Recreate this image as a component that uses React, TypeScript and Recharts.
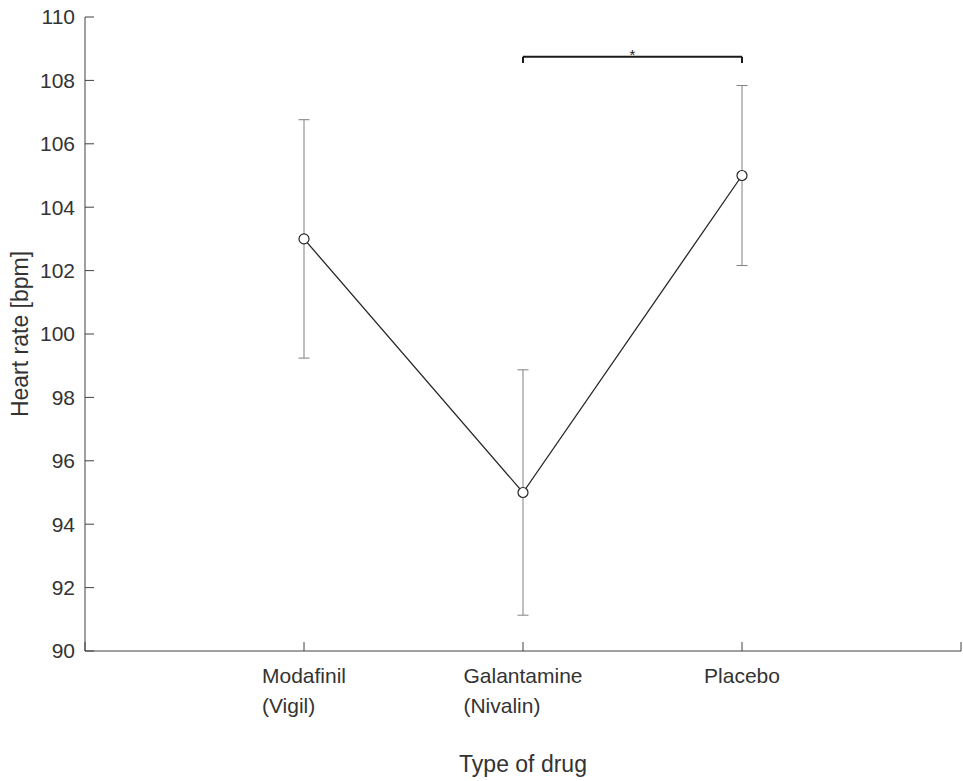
import React from "react";
import {
  ComposedChart,
  ErrorBar,
  Line,
  ReferenceLine,
  XAxis,
  YAxis,
} from "recharts";

// Heart rate by drug, mean ± error, with a significance bracket
// between Galantamine and Placebo.

const drugNames = ["Modafinil", "Galantamine", "Placebo"];
const brandNames = ["(Vigil)", "(Nivalin)", ""];
const heartRate = [103, 95, 105];
const heartRateErr = [3.76, 3.87, 2.84];

const xTicks = [0, 1, 2, 3, 4];
const yTicks = [90, 92, 94, 96, 98, 100, 102, 104, 106, 108, 110];

// significance bracket: between category positions 2 and 3
const sigPair = [2, 3];
const sigLevel = 108.75;
const sigDrop = 0.2;
const sigMark = "*";

const FONT = "'Liberation Sans', Arial, Helvetica, sans-serif";
const TICK_SIZE = 21;
const LABEL_SIZE = 23;
const INK = "#333333";
const AXIS = "#404040";

const data = drugNames.map((name, i) => ({
  pos: i + 1,
  name,
  hr: heartRate[i],
  err: heartRateErr[i],
}));

let measureCtx: CanvasRenderingContext2D | null = null;
function textWidth(t: string, size: number) {
  if (typeof document === "undefined") return t.length * size * 0.55;
  if (!measureCtx) measureCtx = document.createElement("canvas").getContext("2d");
  if (!measureCtx) return t.length * size * 0.55;
  measureCtx.font = `${size}px ${FONT}`;
  return measureCtx.measureText(t).width;
}

// MATLAB-style multi-line tick: block centred on tick, lines left-aligned
function DrugTick({ x, y, payload }: any) {
  const idx = Math.round(payload.value) - 1;
  if (idx < 0 || idx >= drugNames.length) return null;
  const lines = [drugNames[idx], brandNames[idx]].filter(Boolean);
  const w = Math.max(...lines.map((l) => textWidth(l, TICK_SIZE)));
  const left = x - w / 2;
  return (
    <g>
      {lines.map((l, i) => (
        <text
          key={i}
          x={left}
          y={y + 32 + i * 30}
          textAnchor="start"
          fontSize={TICK_SIZE}
          fontFamily={FONT}
          fill={INK}
        >
          {l}
        </text>
      ))}
    </g>
  );
}

function XTitle({ viewBox }: any) {
  const { x, y, width } = viewBox;
  return (
    <text
      x={x + width / 2}
      y={y + 121}
      textAnchor="middle"
      fontSize={LABEL_SIZE}
      fontFamily={FONT}
      fill={INK}
    >
      Type of drug
    </text>
  );
}

function YTitle({ viewBox }: any) {
  const { x, y, height } = viewBox;
  const cx = x + 20;
  const cy = y + height / 2;
  return (
    <text
      x={cx}
      y={cy}
      transform={`rotate(-90 ${cx} ${cy})`}
      textAnchor="middle"
      dominantBaseline="central"
      fontSize={LABEL_SIZE}
      fontFamily={FONT}
      fill={INK}
    >
      Heart rate [bpm]
    </text>
  );
}

export default function App() {
  const [a, b] = sigPair;
  const bracket = { stroke: "#1a1a1a", strokeWidth: 2 };
  return (
    <div style={{ position: "absolute", left: 0, top: 0, background: "#fff" }}>
      <ComposedChart
        width={963}
        height={781}
        data={data}
        margin={{ top: 17, right: 2, bottom: 0, left: 0 }}
      >
        <XAxis
          dataKey="pos"
          type="number"
          domain={[0, 4]}
          ticks={xTicks}
          interval={0}
          height={130}
          tickSize={-9}
          tickMargin={9}
          axisLine={{ stroke: AXIS, strokeWidth: 1 }}
          tickLine={{ stroke: AXIS, strokeWidth: 1 }}
          tick={<DrugTick />}
          label={{ content: <XTitle /> }}
        />
        <YAxis
          type="number"
          domain={[90, 110]}
          ticks={yTicks}
          interval={0}
          width={85}
          tickSize={-9}
          tickMargin={19}
          axisLine={{ stroke: AXIS, strokeWidth: 1 }}
          tickLine={{ stroke: AXIS, strokeWidth: 1 }}
          tick={{ fontSize: TICK_SIZE, fontFamily: FONT, fill: INK }}
          label={{ content: <YTitle /> }}
        />
        <ReferenceLine
          segment={[{ x: a, y: sigLevel }, { x: b, y: sigLevel }]}
          {...bracket}
          label={{
            value: sigMark,
            position: "top",
            offset: -3,
            fontSize: 15,
            fontFamily: FONT,
            fill: "#1a1a1a",
          }}
        />
        <ReferenceLine
          segment={[{ x: a, y: sigLevel }, { x: a, y: sigLevel - sigDrop }]}
          {...bracket}
        />
        <ReferenceLine
          segment={[{ x: b, y: sigLevel }, { x: b, y: sigLevel - sigDrop }]}
          {...bracket}
        />
        <Line
          dataKey="hr"
          type="linear"
          stroke="#262626"
          strokeWidth={1.3}
          dot={{ r: 5, fill: "#fff", stroke: "#262626", strokeWidth: 1.2 }}
          activeDot={false}
          isAnimationActive={false}
        >
          <ErrorBar
            dataKey="err"
            direction="y"
            width={5.5}
            stroke="#808080"
            strokeWidth={1}
            isAnimationActive={false}
          />
        </Line>
      </ComposedChart>
    </div>
  );
}
